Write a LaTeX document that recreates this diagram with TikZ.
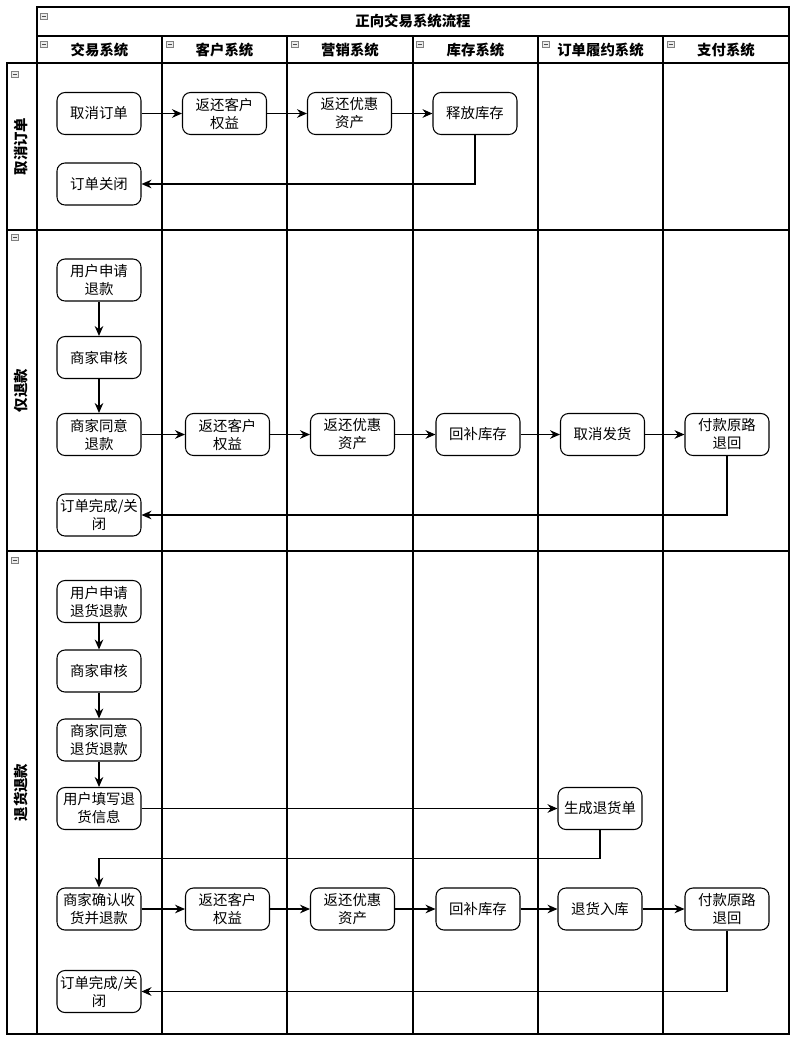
\documentclass[tikz,border=0pt]{standalone}
\usepackage{fontspec}
\setmainfont{Noto Sans CJK SC}
\usetikzlibrary{arrows.meta}

\begin{document}
\begin{tikzpicture}[x=0.75pt, y=-0.75pt,
    proc/.style={draw, line width=0.8pt, rounded corners=6pt, minimum width=63pt,
        minimum height=31.5pt, inner sep=1pt, align=center,
        font=\fontsize{10.8}{13.5}\selectfont},
    flow/.style={line width=0.8pt, -{Stealth[length=7.5pt, width=6.5pt, inset=2.5pt]}},
    lane/.style={line width=1pt},
    hdr/.style={font=\fontsize{10.8}{13}\selectfont\bfseries},
    foldicon/.style={draw=gray, fill=gray!15, line width=0.4pt}]
    \useasboundingbox (0,0) rectangle (800,1046);

    % 泳道框架
    \draw[lane] (37,7) rectangle (789,1034);
    \draw[lane] (37,36) -- (789,36);
    \draw[lane] (7,63) -- (789,63);
    \draw[lane] (7,63) rectangle (37,1034);
    \draw[lane] (7,230) -- (789,230);
    \draw[lane] (7,551) -- (789,551);
    \foreach \x in {162,287,413,538,663}
        \draw[lane] (\x,36) -- (\x,1034);

    % 折叠小图标
    \foreach \x/\y in {40/13, 40/41, 166/41, 291/41, 416/41, 542/41, 667/41, 11/71, 11/234, 11/557} {
        \draw[foldicon] (\x,\y) rectangle ({\x+7},{\y+6});
        \draw[gray!60!black, line width=0.5pt] ({\x+1.5},{\y+3}) -- ({\x+5.5},{\y+3});
    }

    % 标题与系统名
    \node[hdr] (title) at (413,21.5) {正向交易系统流程};
    \node[hdr] (jy) at (99.5,50) {交易系统};
    \node[hdr] (kh) at (224.5,50) {客户系统};
    \node[hdr] (yx) at (350,50) {营销系统};
    \node[hdr] (kc) at (475.5,50) {库存系统};
    \node[hdr] (ly) at (600.5,50) {订单履约系统};
    \node[hdr] (zf) at (726,50) {支付系统};

    % 场景名
    \node[hdr, rotate=90] (qxdd) at (21,146.5) {取消订单};
    \node[hdr, rotate=90] (jtk) at (21,390.5) {仅退款};
    \node[hdr, rotate=90] (thtk) at (21,792.5) {退货退款};

    % 取消订单
    \node[proc] (a1) at (99,113.5) {取消订单};
    \node[proc] (a2) at (224.5,113.5) {返还客户\\权益};
    \node[proc] (a3) at (349.5,113.5) {返还优惠\\资产};
    \node[proc] (a4) at (475,113.5) {释放库存};
    \node[proc] (a5) at (99,184) {订单关闭};
    \draw[flow] (a1) -- (a2);
    \draw[flow] (a2) -- (a3);
    \draw[flow] (a3) -- (a4);
    \draw[flow] (a4.south) |- (a5.east);

    % 仅退款
    \node[proc] (b1) at (99,280) {用户申请\\退款};
    \node[proc] (b2) at (99,357.5) {商家审核};
    \node[proc] (b3) at (99,434.5) {商家同意\\退款};
    \node[proc] (b4) at (227.5,434.5) {返还客户\\权益};
    \node[proc] (b5) at (352.5,434.5) {返还优惠\\资产};
    \node[proc] (b6) at (478,434.5) {回补库存};
    \node[proc] (b7) at (602.5,434.5) {取消发货};
    \node[proc] (b8) at (727,434.5) {付款原路\\退回};
    \node[proc] (b9) at (99,515) {订单完成/关\\闭};
    \draw[flow] (b1) -- (b2);
    \draw[flow] (b2) -- (b3);
    \draw[flow] (b3) -- (b4);
    \draw[flow] (b4) -- (b5);
    \draw[flow] (b5) -- (b6);
    \draw[flow] (b6) -- (b7);
    \draw[flow] (b7) -- (b8);
    \draw[flow] (b8.south) |- (b9.east);

    % 退货退款
    \node[proc] (c1) at (99,601.5) {用户申请\\退货退款};
    \node[proc] (c2) at (99,671) {商家审核};
    \node[proc] (c3) at (99,740) {商家同意\\退货退款};
    \node[proc] (c4) at (99,808.5) {用户填写退\\货信息};
    \node[proc] (c5) at (600,808.5) {生成退货单};
    \node[proc] (c6) at (99,909) {商家确认收\\货并退款};
    \node[proc] (c7) at (227.5,909) {返还客户\\权益};
    \node[proc] (c8) at (352.5,909) {返还优惠\\资产};
    \node[proc] (c9) at (478,909) {回补库存};
    \node[proc] (c10) at (600,909) {退货入库};
    \node[proc] (c11) at (727,909) {付款原路\\退回};
    \node[proc] (c12) at (99,991.5) {订单完成/关\\闭};
    \draw[flow] (c1) -- (c2);
    \draw[flow] (c2) -- (c3);
    \draw[flow] (c3) -- (c4);
    \draw[flow] (c4) -- (c5);
    \draw[flow] (c5.south) -- ++(0,28.5) -| (c6.north);
    \draw[flow] (c6) -- (c7);
    \draw[flow] (c7) -- (c8);
    \draw[flow] (c8) -- (c9);
    \draw[flow] (c9) -- (c10);
    \draw[flow] (c10) -- (c11);
    \draw[flow] (c11.south) |- (c12.east);
\end{tikzpicture}
\end{document}
